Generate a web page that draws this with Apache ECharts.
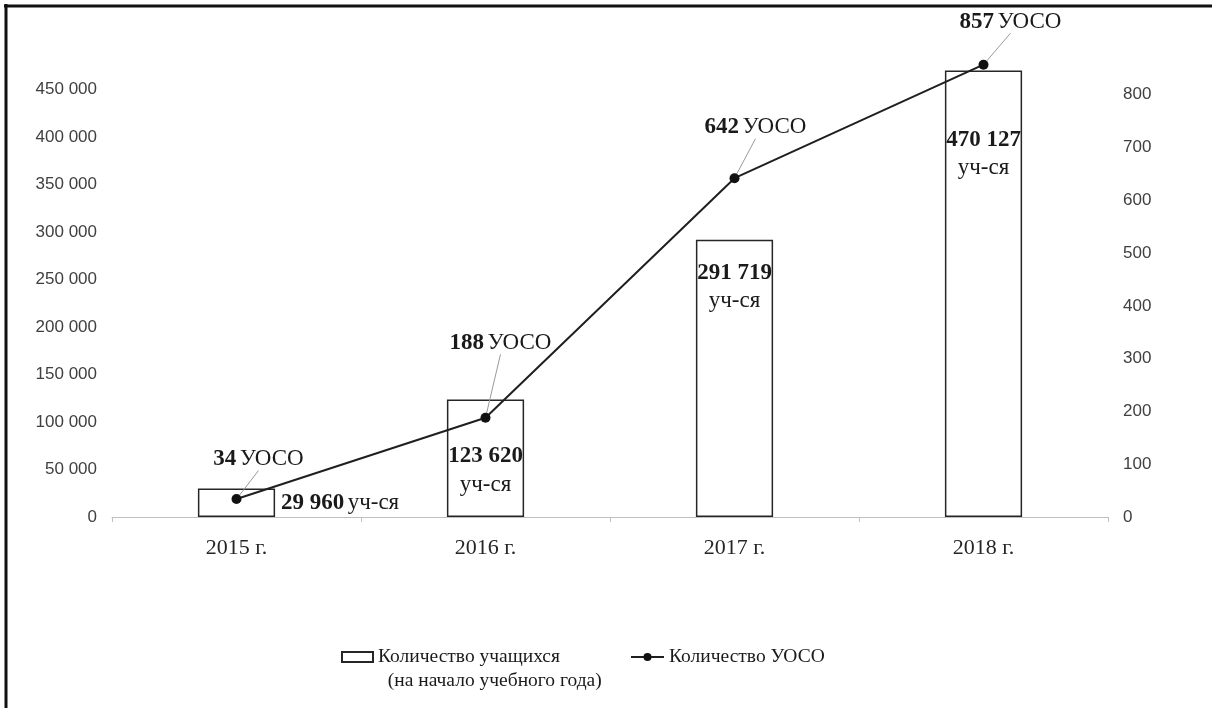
<!DOCTYPE html>
<html lang="ru">
<head>
<meta charset="utf-8">
<title>Количество учащихся и УОСО</title>
<script src="https://cdn.jsdelivr.net/npm/echarts@6/dist/echarts.min.js"></script>
<style>
  html, body { margin: 0; padding: 0; background: #fff; }
  #chart { width: 1212px; height: 708px; }
</style>
</head>
<body>
<div id="chart"></div>
<script>
// Years on the category axis
const years = ['2015 г.', '2016 г.', '2017 г.', '2018 г.'];
// Number of students at the start of the school year
const students = [29960, 123620, 291719, 470127];
// Number of schools (УОСО)
const schools = [34, 188, 642, 857];

const studentsName = 'Количество учащихся\n(на начало учебного года)';
const schoolsName = 'Количество УОСО';

// Label placement: inset of the student label from the bar top (null = beside the bar)
const barLabelInset = [null, 43, 19, 56];
// Offset of each school label from its point
const pointLabelShift = [[22, -40], [15, -75], [21, -51], [27, -43]];

const SERIF = '"Liberation Serif", "Times New Roman", serif';
const SANS = '"Liberation Sans", Arial, sans-serif';

function groupDigits(v) {
  return String(v).replace(/\B(?=(\d{3})+(?!\d))/g, ' ');
}

const labelRich = {
  b: { fontFamily: SERIF, fontSize: 23, fontWeight: 'bold', color: '#1a1a1a', lineHeight: 28 },
  n: { fontFamily: SERIF, fontSize: 23, color: '#1a1a1a', lineHeight: 28 }
};

const barData = students.map(function (v, i) {
  const inset = barLabelInset[i];
  const label = inset === null
    ? { show: true, position: 'right', distance: 6,
        formatter: '{b|' + groupDigits(v) + '} {n|уч-ся}', rich: labelRich }
    : { show: true, position: 'insideTop', distance: inset, align: 'center',
        formatter: '{b|' + groupDigits(v) + '}\n{n|уч-ся}', rich: labelRich };
  return { value: v, label: label };
});

const chart = echarts.init(document.getElementById('chart'), null, { renderer: 'canvas' });

chart.setOption({
  animation: false,
  backgroundColor: '#ffffff',
  grid: { left: 112, right: 104, top: 42, bottom: 191, containLabel: false },
  xAxis: {
    type: 'category',
    data: years,
    boundaryGap: true,
    axisLine: { lineStyle: { color: '#bfbfbf', width: 1 } },
    axisTick: { show: true, length: 5, lineStyle: { color: '#bfbfbf' } },
    axisLabel: { fontFamily: SERIF, fontSize: 22, color: '#262626', margin: 20 },
    splitLine: { show: false }
  },
  yAxis: [
    {
      type: 'value', min: 0, max: 500000, interval: 50000,
      axisLine: { show: false }, axisTick: { show: false }, splitLine: { show: false },
      axisLabel: { fontFamily: SANS, fontSize: 17, color: '#404040', margin: 15,
                   showMaxLabel: false, formatter: groupDigits }
    },
    {
      type: 'value', min: 0, max: 900, interval: 100,
      axisLine: { show: false }, axisTick: { show: false }, splitLine: { show: false },
      axisLabel: { fontFamily: SANS, fontSize: 17, color: '#404040', margin: 15,
                   showMaxLabel: false }
    }
  ],
  legend: [
    {
      data: [{ name: studentsName, icon: 'rect' }],
      left: 341, top: 621, padding: 0,
      itemWidth: 31, itemHeight: 10,
      formatter: function (name) { return '\n' + name.replace('\n', '\n  '); },
      textStyle: { fontFamily: SERIF, fontSize: 19.5, color: '#1a1a1a', lineHeight: 24 }
    },
    {
      data: [schoolsName],
      left: 630, top: 645, padding: 0,
      itemWidth: 33, itemHeight: 10,
      textStyle: { fontFamily: SERIF, fontSize: 19.5, color: '#1a1a1a', lineHeight: 24 }
    }
  ],
  graphic: [
    { type: 'line', shape: { x1: 4, y1: 6, x2: 1212, y2: 6 },
      style: { stroke: '#111', lineWidth: 3 }, silent: true },
    { type: 'line', shape: { x1: 6, y1: 4, x2: 6, y2: 708 },
      style: { stroke: '#111', lineWidth: 3 }, silent: true }
  ],
  series: [
    {
      name: studentsName,
      type: 'bar',
      yAxisIndex: 0,
      barWidth: '31%',
      data: barData,
      itemStyle: { color: '#ffffff', borderColor: '#262626', borderWidth: 1.5 }
    },
    {
      name: schoolsName,
      type: 'line',
      yAxisIndex: 1,
      data: schools,
      symbol: 'circle',
      symbolSize: 10,
      lineStyle: { color: '#1f1f1f', width: 2 },
      itemStyle: { color: '#111111' },
      label: {
        show: true,
        position: 'inside',
        formatter: function (p) { return '{b|' + p.value + '} {n|УОСО}'; },
        rich: labelRich
      },
      labelLine: { show: true, lineStyle: { color: '#9a9a9a', width: 1 } },
      labelLayout: function (params) {
        const s = pointLabelShift[params.dataIndex];
        return { dx: s[0], dy: s[1] };
      },
      z: 3
    }
  ]
});
</script>
</body>
</html>
